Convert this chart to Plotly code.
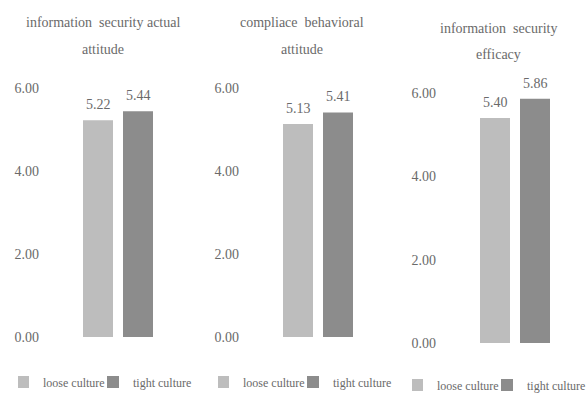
import plotly.graph_objects as go

# ---- data ----
panel_titles = [
    ["information  security actual", "attitude"],
    ["compliace  behavioral", "attitude"],
    ["information  security", "efficacy"],
]
groups = ["loose culture", "tight culture"]
loose_values = [5.22, 5.13, 5.40]
tight_values = [5.44, 5.41, 5.86]
y_ticks = [0, 2, 4, 6]

# ---- styling ----
FONT = "Liberation Serif, Times New Roman, serif"
TXT = "#6a6a6a"
colors = {"loose culture": "#bdbdbd", "tight culture": "#8c8c8c"}
W, H = 586, 395

# pixel layout per panel: (x-axis left px, x-axis right px, y bottom px, y top px)
px = [
    (40, 158, 337, 46.5),
    (240, 358, 337, 46.5),
    (437, 555, 343, 51.3),
]
legend_x0 = [18, 218, 412]
legend_cy = [382, 382, 385]
title_cx = [103, 302, 498]
title_cy = [(23, 49), (23, 49), (29, 55)]

fig = go.Figure()
for i in range(3):
    sfx = "" if i == 0 else str(i + 1)
    leg = "legend" if i == 0 else f"legend{i+1}"
    vals = {"loose culture": loose_values[i], "tight culture": tight_values[i]}
    for g in groups:
        fig.add_trace(go.Bar(
            x=[g], y=[vals[g]], name=g, width=0.75,
            marker=dict(color=colors[g], line=dict(width=0)),
            xaxis="x" + sfx, yaxis="y" + sfx, legend=leg,
            showlegend=True, hoverinfo="skip",
        ))
        fig.add_annotation(
            x=g, y=vals[g], xref="x" + sfx, yref="y" + sfx,
            text=f"{vals[g]:.2f}", showarrow=False, yanchor="bottom", yshift=6,
            font=dict(family=FONT, size=14, color=TXT),
        )
    xl, xr, yb, yt = px[i]
    fig.update_layout(**{
        "xaxis" + sfx: dict(
            domain=[xl / W, xr / W], anchor="y" + sfx, type="category",
            categoryorder="array", categoryarray=groups,
            range=[-1.45, 1.5], showticklabels=False, showgrid=False,
            zeroline=False, showline=False, ticks="", fixedrange=True,
        ),
        "yaxis" + sfx: dict(
            domain=[1 - yb / H, 1 - yt / H], anchor="x" + sfx,
            range=[0, 7], tickvals=y_ticks, tickformat=".2f",
            showgrid=False, zeroline=False, showline=False, ticks="",
            tickfont=dict(family=FONT, size=14, color=TXT), fixedrange=True,
        ),
        leg: dict(
            orientation="h", xref="paper", yref="paper",
            x=legend_x0[i] / W, xanchor="left",
            y=1 - legend_cy[i] / H, yanchor="middle",
            font=dict(family=FONT, size=12, color=TXT),
            bgcolor="rgba(0,0,0,0)", itemwidth=30, indentation=-15,
            tracegroupgap=0, entrywidth=60, entrywidthmode="pixels",
            itemclick=False, itemdoubleclick=False,
        ),
    })
    for line, cy in zip(panel_titles[i], title_cy[i]):
        fig.add_annotation(
            x=title_cx[i] / W, y=1 - cy / H, xref="paper", yref="paper",
            text=line, showarrow=False, xanchor="center", yanchor="middle",
            font=dict(family=FONT, size=14, color=TXT),
        )

fig.update_layout(
    width=W, height=H,
    margin=dict(l=0, r=0, t=0, b=0, autoexpand=False),
    paper_bgcolor="white", plot_bgcolor="white",
    barmode="overlay", showlegend=True,
)
fig.write_html("out.html")
